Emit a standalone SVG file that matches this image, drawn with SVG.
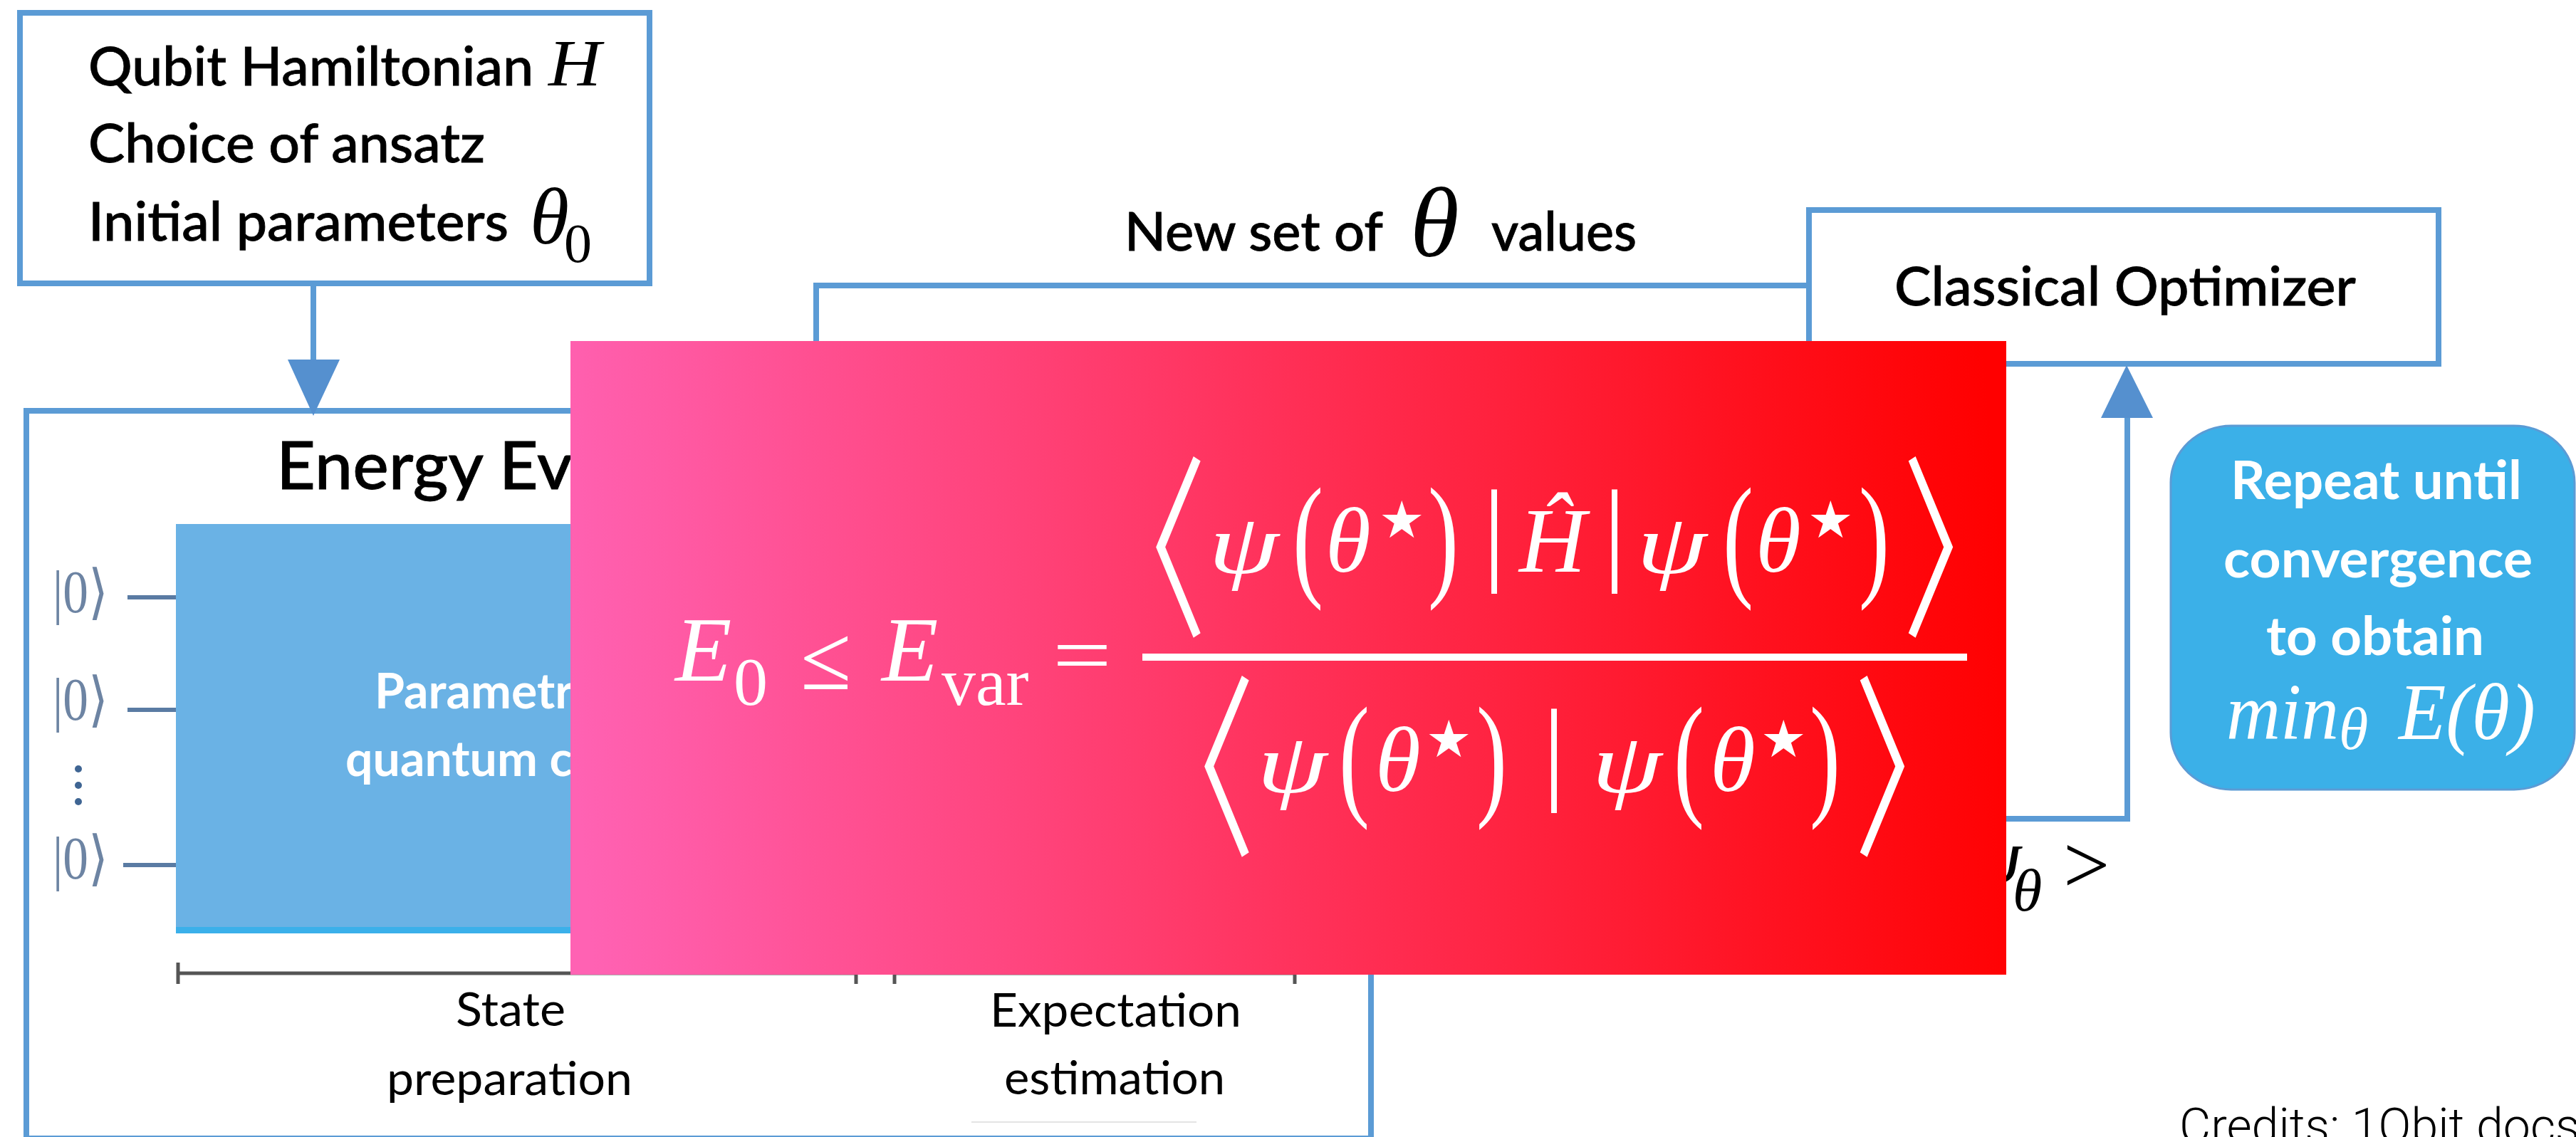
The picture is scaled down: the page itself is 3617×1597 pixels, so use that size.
<svg xmlns="http://www.w3.org/2000/svg" width="3617" height="1597" viewBox="0 0 3617 1597">
<style>
.box{fill:#fff;stroke:#5b9bd5;stroke-width:8}
.conn{fill:none;stroke:#5b9bd5;stroke-width:8}
.head{fill:#5590cf}
.s{font-family:Lato,"Open Sans",sans-serif;fill:#000}
.m{font-size:76px;font-weight:500;stroke:#000;stroke-width:.8}
.r{font-size:66px}
.w{font-family:Lato,"Open Sans",sans-serif;fill:#fff;font-weight:700}
.i{font-family:"Liberation Serif",serif;font-style:italic}
.u{font-family:"Liberation Serif",serif}
.f{fill:#fff}
.e{font-size:130px}
.sub{font-size:96px}
.p{font-size:190px}
.b{font-family:"Liberation Serif",serif;font-size:270px;fill:#fff;stroke:#fff;stroke-width:3}
.st{font-family:"DejaVu Sans",sans-serif;font-size:72px;fill:#fff}
.bar{font-size:160px}
.ket{font-size:84px;fill:#6d84a3}
.wire{stroke:#5a7ba3;stroke-width:6}
.tick{stroke:#555;stroke-width:5;fill:none}
</style>
<defs>
<linearGradient id="grad" gradientUnits="userSpaceOnUse" x1="801" y1="1020" x2="2817" y2="830">
<stop offset="0" stop-color="#ff62b3"/><stop offset="1" stop-color="#ff0000"/>
</linearGradient>
</defs>
<rect width="3617" height="1597" fill="#fff"/>

<g id="energy">
<rect class="box" x="37" y="577" width="1888" height="1022"/>
<text class="s" x="388" y="687" font-size="92" font-weight="500" stroke="#000" stroke-width=".8" textLength="462" lengthAdjust="spacingAndGlyphs">Energy Eva</text>
<g id="qubits">
<text class="u ket" x="74" y="860" textLength="78" lengthAdjust="spacingAndGlyphs">|0⟩</text>
<text class="u ket" x="74" y="1011" textLength="78" lengthAdjust="spacingAndGlyphs">|0⟩</text>
<text class="u ket" x="74" y="1234" textLength="78" lengthAdjust="spacingAndGlyphs">|0⟩</text>
<line class="wire" x1="179" y1="839" x2="247" y2="839"/>
<line class="wire" x1="179" y1="997" x2="247" y2="997"/>
<line class="wire" x1="173" y1="1215" x2="247" y2="1215"/>
<circle cx="110" cy="1080" r="5" fill="#3f6593"/><circle cx="110" cy="1103" r="5" fill="#3f6593"/><circle cx="110" cy="1126" r="5" fill="#3f6593"/>
</g>
<rect x="247" y="736" width="1100" height="575" fill="#3bb0ea"/>
<rect x="247" y="736" width="1100" height="566" fill="#6ab2e5"/>
<text class="w" x="526" y="995" font-size="68">Parametr</text>
<text class="w" x="485" y="1090" font-size="68">quantum c</text>
<path class="tick" d="M250 1352V1382M250 1367H1202M1202 1352V1382M1256 1382V1367H1818V1382"/>
<text class="s r" x="640" y="1441" textLength="154" lengthAdjust="spacingAndGlyphs">State</text>
<text class="s r" x="543" y="1538" textLength="345" lengthAdjust="spacingAndGlyphs">preparation</text>
<text class="s r" x="1390" y="1442" textLength="353" lengthAdjust="spacingAndGlyphs">Expectation</text>
<text class="s r" x="1410" y="1537" textLength="310" lengthAdjust="spacingAndGlyphs">estimation</text>
<line x1="1364" y1="1576" x2="1680" y2="1576" stroke="#e4e4e4" stroke-width="2"/>
</g>

<g id="input">
<rect class="box" x="28" y="18" width="884" height="380"/>
<text class="s m" x="124" y="120" textLength="625" lengthAdjust="spacingAndGlyphs">Qubit Hamiltonian</text>
<text class="i" x="770" y="120" font-size="94" textLength="74" lengthAdjust="spacingAndGlyphs">H</text>
<text class="s m" x="124" y="228" textLength="557" lengthAdjust="spacingAndGlyphs">Choice of ansatz</text>
<text class="s m" x="124" y="338" textLength="590" lengthAdjust="spacingAndGlyphs">Initial parameters</text>
<text class="i" x="744" y="342" font-size="112">θ</text>
<text class="u" x="792" y="368" font-size="78">0</text>
</g>

<g id="connectors">
<line class="conn" x1="440" y1="401" x2="440" y2="510"/>
<polygon class="head" points="404,505 477,505 440,584"/>
<polyline class="conn" points="1146,480 1146,401 2536,401"/>
<polyline class="conn" points="1929,1150 2987,1150 2987,580"/>
<polygon class="head" points="2950,587 3023,587 2986,513"/>
</g>

<g id="optimizer">
<rect class="box" x="2540" y="295" width="884" height="216"/>
<text class="s m" x="2660" y="429" textLength="648" lengthAdjust="spacingAndGlyphs">Classical Optimizer</text>
</g>

<g id="repeat">
<rect x="3048" y="598" width="567" height="511" rx="85" ry="80" fill="#3bb0e8" stroke="#5b9bd5" stroke-width="3"/>
<text class="w" x="3132" y="701" font-size="74" textLength="409" lengthAdjust="spacingAndGlyphs">Repeat until</text>
<text class="w" x="3122" y="811" font-size="74" textLength="434" lengthAdjust="spacingAndGlyphs">convergence</text>
<text class="w" x="3182" y="920" font-size="74" textLength="306" lengthAdjust="spacingAndGlyphs">to obtain</text>
<text class="i f" x="3126" y="1038" font-size="112" textLength="158" lengthAdjust="spacingAndGlyphs">min</text>
<text class="i f" x="3284" y="1052" font-size="84">θ</text>
<text class="i f" x="3368" y="1038" font-size="112" textLength="192" lengthAdjust="spacingAndGlyphs">E(θ)</text>
</g>

<g id="labels">
<text class="s m" x="1579" y="352" textLength="363" lengthAdjust="spacingAndGlyphs">New set of</text>
<text class="i" x="1980" y="360" font-size="140">θ</text>
<text class="s m" x="2094" y="352" textLength="204" lengthAdjust="spacingAndGlyphs">values</text>
<text class="i" x="2770" y="1240" font-size="110">ψ</text>
<text class="i" x="2826" y="1279" font-size="84">θ</text>
<text class="u" x="2897" y="1254" font-size="116">&gt;</text>
<text x="3060" y="1605" font-family="Roboto,sans-serif" font-weight="300" font-size="68" fill="#000">Credits: 1Qbit docs</text>
</g>

<g id="formula">
<rect x="801" y="479" width="2016" height="890" fill="url(#grad)"/>
<text class="i f e" x="948" y="956">E</text>
<text class="u f sub" x="1030" y="990">0</text>
<text class="u f e" x="1124" y="968">≤</text>
<text class="i f e" x="1238" y="956">E</text>
<text class="u f sub" x="1322" y="990">var</text>
<text class="u f e" transform="translate(1478,959) scale(1.13,.9)">=</text>
<rect class="f" x="1604" y="918" width="1158" height="10"/>

<text class="b" transform="translate(1468,870) scale(.92,1.05)">〈</text>
<text class="i f e" transform="translate(1697,805) scale(1.22,.92)">ψ</text>
<text class="u f p" transform="translate(1815,817) scale(.68,1)">(</text>
<text class="i f e" x="1861" y="803">θ</text>
<text class="st" x="1936" y="755">★</text>
<text class="u f p" transform="translate(2005,817) scale(.68,1)">)</text>
<text class="u f bar" x="2082" y="800">|</text>
<text class="i f e" x="2133" y="803">Ĥ</text>
<text class="u f bar" x="2251" y="800">|</text>
<text class="i f e" transform="translate(2298,805) scale(1.22,.92)">ψ</text>
<text class="u f p" transform="translate(2419,817) scale(.68,1)">(</text>
<text class="i f e" x="2465" y="803">θ</text>
<text class="st" x="2538" y="755">★</text>
<text class="u f p" transform="translate(2610,817) scale(.68,1)">)</text>
<text class="b" transform="translate(2649,870) scale(.92,1.05)">〉</text>

<text class="b" transform="translate(1536,1178) scale(.92,1.05)">〈</text>
<text class="i f e" transform="translate(1765,1113) scale(1.22,.92)">ψ</text>
<text class="u f p" transform="translate(1880,1125) scale(.68,1)">(</text>
<text class="i f e" x="1931" y="1111">θ</text>
<text class="st" x="2002" y="1063">★</text>
<text class="u f p" transform="translate(2073,1125) scale(.68,1)">)</text>
<text class="u f bar" x="2166" y="1108">|</text>
<text class="i f e" transform="translate(2235,1113) scale(1.22,.92)">ψ</text>
<text class="u f p" transform="translate(2350,1125) scale(.68,1)">(</text>
<text class="i f e" x="2401" y="1111">θ</text>
<text class="st" x="2472" y="1063">★</text>
<text class="u f p" transform="translate(2541,1125) scale(.68,1)">)</text>
<text class="b" transform="translate(2581,1178) scale(.92,1.05)">〉</text>
</g>
</svg>
